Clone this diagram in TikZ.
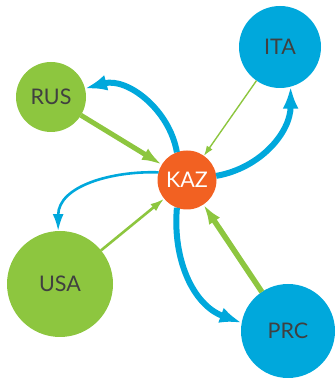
\documentclass[tikz,border=0pt]{standalone}
\usepackage{fontspec}
\setmainfont{Lato}
\usetikzlibrary{arrows.meta}
\definecolor{verde}{HTML}{8DC63F}
\definecolor{azul}{HTML}{00A8DC}
\definecolor{naranja}{HTML}{F26122}
\definecolor{texto}{HTML}{404040}
\tikzset{
  pais/.style={circle, inner sep=0pt, outer sep=0pt, text=texto, font=\fontsize{21.5}{22}\selectfont},
  paisverde/.style={pais, fill=verde},
  paisazul/.style={pais, fill=azul},
  centro/.style={pais, fill=naranja, text=white},
  flechaverde/.style={draw=verde, line width=#1},
  flechaazul/.style={draw=azul, line width=#1},
}

\begin{document}
\begin{tikzpicture}[x=1pt, y=1pt]
  \useasboundingbox (0,0) rectangle (335,379);
  \node[centro, minimum size=59pt] (kaz) at (187,199) {KAZ};
  \node[paisverde, minimum size=70pt] (rus) at (51,282) {RUS};
  \node[paisazul, minimum size=82pt] (ita) at (280,332) {ITA};
  \node[paisverde, minimum size=106pt] (usa) at (60,95) {USA};
  \node[paisazul, minimum size=94pt] (prc) at (288,48) {PRC};
  % entradas a KAZ
  \draw[flechaverde=5pt, -{Latex[length=20pt,width=13pt]}] (rus) -- (kaz);
  \draw[flechaverde=1.4pt, -{Latex[length=10pt,width=7pt]}] (ita) -- (kaz);
  \draw[flechaverde=2.6pt, -{Latex[length=14pt,width=9pt]}] (usa) -- (kaz);
  \draw[flechaverde=5.5pt, -{Latex[length=20pt,width=13pt]}] (prc) -- (kaz);
  % salidas de KAZ
  \draw[flechaazul=6pt, -{Latex[length=22pt,width=16pt]}] (kaz.110) to[out=100, in=15] (rus.14);
  \draw[flechaazul=6pt, -{Latex[length=22pt,width=16pt]}] (kaz.8) to[out=10, in=-90] (ita.-75);
  \draw[flechaazul=2.6pt, -{Latex[length=17pt,width=11pt]}] (kaz.165) to[out=178, in=90] (usa.92);
  \draw[flechaazul=6pt, -{Latex[length=22pt,width=16pt]}] (kaz.250) to[out=-95, in=160] (prc.170);
\end{tikzpicture}
\end{document}
